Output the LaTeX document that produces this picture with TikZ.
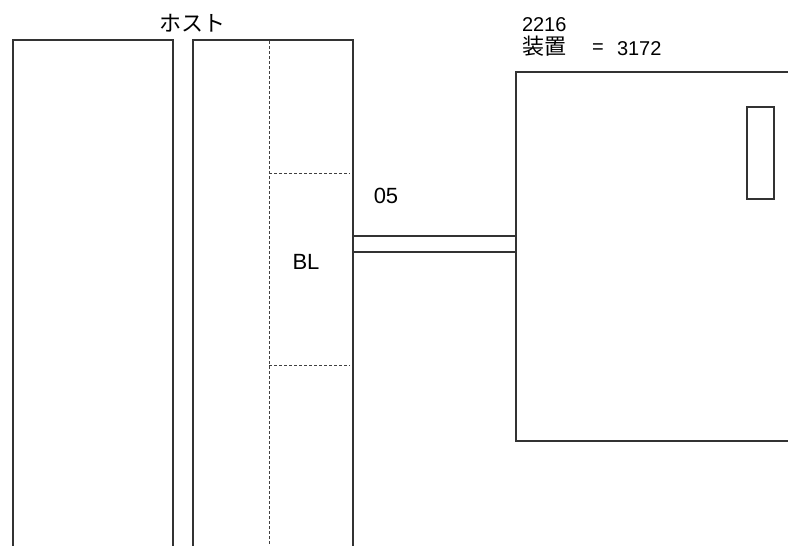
\documentclass[tikz,border=0pt]{standalone}
\usepackage{fontspec}
\setmainfont{Liberation Sans}
\newfontfamily\jpfont{Noto Sans CJK JP}
\begin{document}
\begin{tikzpicture}[x=1pt,y=-1pt,
  box/.style={draw=black!80,line width=1.2pt,rectangle,inner sep=0pt,outer sep=0pt,anchor=north west},
  dashline/.style={draw=black!75,line width=1pt,dash pattern=on 3pt off 2pt},
  link/.style={draw=black!80,line width=1.2pt},
  lbl/.style={font=\fontsize{22}{26}\selectfont,inner sep=0pt,outer sep=0pt},
  small/.style={font=\fontsize{20}{24}\selectfont,inner sep=0pt,outer sep=0pt}]
\useasboundingbox (0,0) rectangle (788,546);
\clip (0,0) rectangle (788,546);
% host columns
\node[box,minimum width=160pt,minimum height=530pt] (col1) at (13,40) {};
\node[box,minimum width=160pt,minimum height=530pt] (col2) at (193,40) {};
\draw[dashline] (269,41) -- (269,560);
\draw[dashline] (269,173) -- (350,173);
\draw[dashline] (269,365) -- (350,365);
% device
\node[box,minimum width=300pt,minimum height=369pt] (dev) at (516,72) {};
\node[box,minimum width=27pt,minimum height=92pt] (slot) at (747,107) {};
% connection
\draw[link] (col2.east |- 0,236) -- (dev.west |- 0,236);
\draw[link] (col2.east |- 0,252) -- (dev.west |- 0,252);
% labels
\node[lbl] (host) at (192,23) {\jpfont ホスト};
\node[lbl] (bl) at (306,262) {BL};
\node[lbl] (ch) at (386,196) {05};
\node[small,anchor=west] (num) at (522,25) {2216};
\node[lbl,anchor=west] (devlbl) at (522,46) {\jpfont 装置};
\node[small] (eq) at (598,49) {=};
\node[small,anchor=west] (addr) at (617,49) {3172};
\end{tikzpicture}
\end{document}
